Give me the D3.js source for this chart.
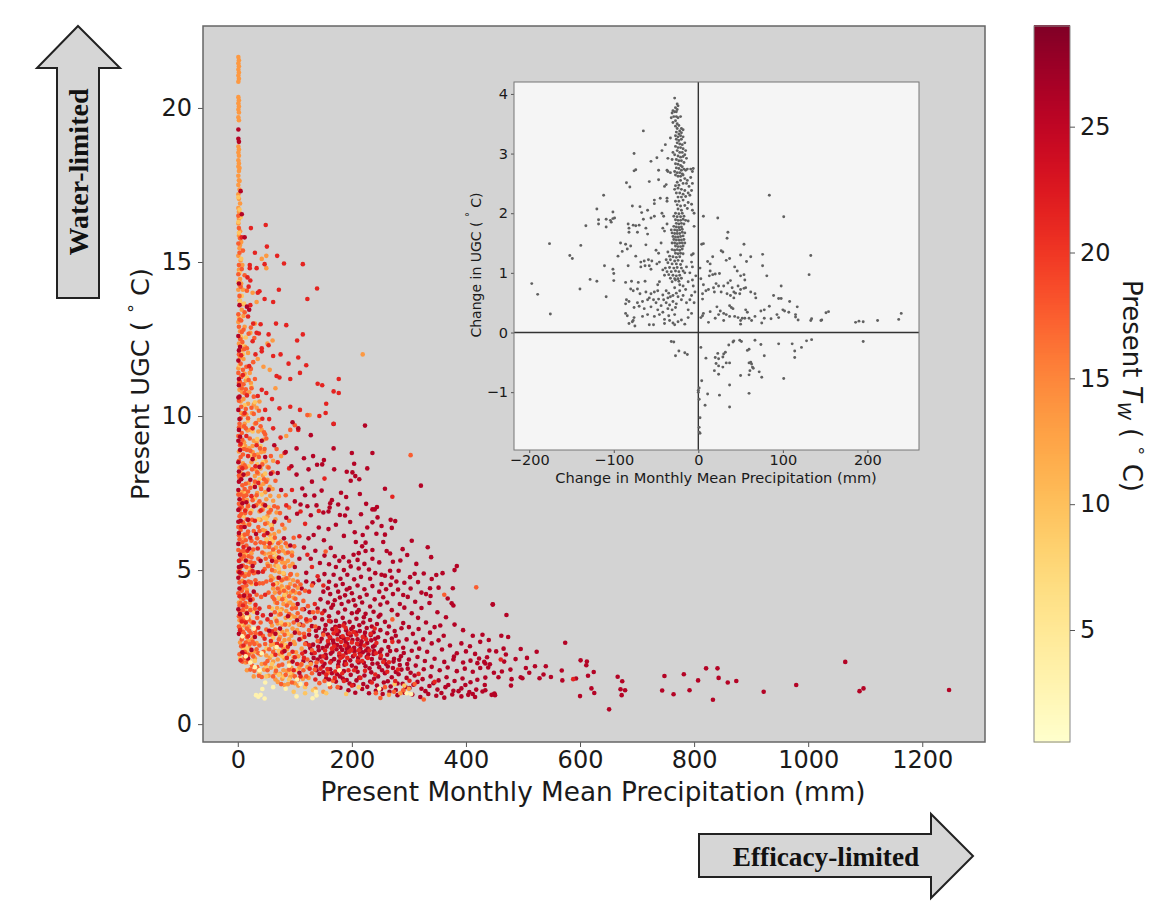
<!DOCTYPE html>
<html>
<head>
<meta charset="utf-8">
<script src="https://cdn.jsdelivr.net/npm/d3@7"></script>
<style>
    html, body { margin: 0; padding: 0; background: #fff; }
    text { font-family: "DejaVu Sans", sans-serif; fill: #1a1a1a; }
    .arrow-label { font-family: "Liberation Serif", serif; font-weight: bold; fill: #111; }
</style>
</head>
<body>
<div id="chart"></div>
<script>
'use strict';

// all values: [precipitation mm, UGC C]
const tempCrimson = 25.8;
const crimsonPoints = [
[168,9.74],[223,9.69],[128,9.38],[106,9.6],[96,9.8],[103,8.95],[168,8.95],[200,8.8],[236,8.8],[132,8.7],[151,8.57],[139,8.42],[148,8.43],[204,8.45],[124,8.27],[169,8.27],[227,8.3],[191,8.19],[201,8.17],[206,8.05],[103,8.1],[198,7.9],[213,7.95],[130,7.87],[113,7.65],[321,7.74],[258,7.64],[147,7.58],[181,7.51],[214,7.47],[134,7.42],[165,7.27],[162,7.17],[161,7.03],[192,7.0],[240,6.97],[244,7.05],[236,6.97],[159,6.9],[128,6.78],[179,6.79],[216,6.81],[245,6.71],[268,6.63],[276,6.59],[197,6.56],[142,6.38],[159,6.33],[227,6.38],[270,6.37],[219,6.14],[243,6.18],[258,6.15],[151,5.97],[133,6.14],[207,5.91],[224,5.89],[255,5.91],[305,5.95],[333,5.74],[289,5.68],[297,5.49],[163,5.72],[339,5.42],[261,5.62],[267,5.54],[224,5.62],[212,5.55],[236,5.37],[313,5.2],[384,5.13],[380,5.0],[359,4.9],[348,4.84],[310,4.88],[282,4.98],[267,4.98],[270,4.76],[241,4.9],[252,4.85],[258,4.82],[447,3.88],[377,4.41],[337,4.41],[322,4.27],[330,4.22],[338,4.16],[303,4.4],[298,4.13],[368,4.08],[375,3.92],[378,3.85],[272,4.22],[252,4.55],[268,4.52],[260,4.38],
[170,5.45],[178,5.3],[185,5.42],[195,5.28],[203,5.5],[210,5.33],[172,5.1],[186,5.0],[198,5.12],[212,5.05],[222,5.2],[230,5.02],[168,4.85],[180,4.72],[192,4.85],[204,4.7],[216,4.78],[232,4.72],[160,4.62],[172,4.5],[184,4.55],[196,4.42],[210,4.5],[222,4.38],[236,4.48],[248,4.3],[150,4.3],[162,4.22],[176,4.3],[188,4.18],[200,4.25],[214,4.12],[226,4.2],[240,4.05],[255,4.12],[145,4.05],[158,3.95],[170,4.02],[182,3.9],[194,3.98],[206,3.85],[218,3.95],[232,3.82],[250,3.88],[262,3.95],[284,3.9],[292,3.78],[270,3.7],[140,3.75],[152,3.68],[164,3.78],[176,3.62],[188,3.72],[200,3.6],[212,3.7],[224,3.58],[238,3.65],[250,3.55],[280,3.55],[305,3.6],[316,3.45],[135,3.45],[148,3.4],[160,3.5],[172,3.35],[184,3.45],[196,3.32],[208,3.42],[220,3.3],[232,3.38],[244,3.25],[258,3.32],[290,3.28],[300,3.15],[330,3.3],[345,3.15],[355,3.2],[130,3.18],[142,3.12],[154,3.22],[166,3.08],[178,3.18],[190,3.05],[202,3.15],[214,3.02],[226,3.12],[238,2.98],[250,3.05],[262,2.95],[275,3.02],[125,2.9],[138,2.85],[150,2.95],[162,2.8],[174,2.92],[186,2.78],[198,2.88],[210,2.75],[222,2.85],[234,2.72],[246,2.82],[258,2.7],[270,2.78],[282,2.68],[296,2.75],[312,2.65],[325,2.75],[340,2.62],[352,2.72],[372,2.55],[392,2.62],[120,2.62],[132,2.58],[144,2.68],[156,2.52],[168,2.62],[180,2.5],[192,2.6],[204,2.48],[216,2.58],[228,2.45],[240,2.55],[252,2.42],[264,2.5],[278,2.4],[290,2.48],[305,2.38],[318,2.45],[332,2.35],[358,2.42],[384,2.3],[400,2.36],[416,2.28],
[118,2.35],[130,2.3],[142,2.4],[154,2.25],[166,2.35],[178,2.22],[190,2.32],[202,2.2],[214,2.3],[226,2.18],[238,2.28],[250,2.15],[262,2.25],[274,2.12],[286,2.2],[300,2.1],[315,2.18],[328,2.05],[345,2.12],[362,2.02],[378,2.1],[395,2.0],[408,2.06],[420,1.98],[115,2.05],[128,2.0],[140,2.1],[152,1.96],[164,2.05],[176,1.92],[188,2.02],[200,1.9],[212,2.0],[224,1.88],[236,1.96],[248,1.85],[260,1.95],[272,1.82],[284,1.92],[298,1.8],[312,1.9],[326,1.78],[340,1.86],[354,1.75],[368,1.84],[384,1.72],[398,1.8],[412,1.7],[138,1.75],[150,1.68],[162,1.78],[174,1.62],[186,1.72],[198,1.6],[210,1.7],[222,1.58],[234,1.68],[246,1.55],[258,1.65],[270,1.52],[282,1.62],[296,1.5],[310,1.58],[324,1.46],[338,1.55],[352,1.42],[366,1.52],[380,1.4],[394,1.48],[408,1.36],[420,1.44],[160,1.45],[172,1.38],[184,1.48],[196,1.32],[208,1.42],[220,1.3],[232,1.38],[244,1.25],[256,1.35],[268,1.22],[280,1.32],[294,1.2],[308,1.28],[322,1.15],[336,1.24],[350,1.12],[364,1.2],[378,1.08],[392,1.16],[406,1.04],[418,1.12],[180,1.18],[194,1.1],[206,1.02],[218,1.14],[230,1.0],[242,1.08],[254,.98],[266,1.05],[280,.94],[292,1.02],[306,.96],[320,.88],[334,.98],[348,.92],[362,.86],[376,.96],[392,.9],[404,.95],[416,.88],[445,.95],
[447,3.89],[471,3.54],[429,2.9],[462,2.87],[474,2.83],[574,2.64],[441,2.39],[453,2.36],[466,2.45],[470,2.26],[496,2.44],[507,2.15],[524,2.35],[432,2.02],[434,1.97],[442,1.94],[425,1.82],[439,1.84],[467,2.03],[478,1.77],[505,1.82],[521,1.88],[540,1.88],[536,1.61],[568,1.74],[569,1.42],[601,2.07],[612,2.03],[611,1.91],[624,1.69],[614,1.57],[593,1.48],[620,1.16],[625,1.01],[600,.91],[666,1.54],[674,1.39],[671,1.13],[679,1.10],[673,.94],[651,.48],[748,1.56],[744,1.09],[764,.97],[782,1.62],[792,1.1],[807,1.42],[821,1.81],[841,1.81],[843,1.5],[833,.79],[859,1.35],[874,1.4],[922,1.05],[979,1.27],[1065,2.02],[1090,1.07],[1097,1.16],[1247,1.11],[434,1.51],[457,1.52],[480,1.46],[496,1.52],[499,1.49],[479,1.25],[433,1.27],[434,1.1],[429,1.06],[450,.99],[451,.94],[449,.97],
[1,19.3],[1,19.0],[2,18.9],[5,17.3],[7,16.55],[12,15.8],[2,14.3],[3,13.6],[16,13.55],[20,13.45],[1,12.6],[4,12.25],[1,11.8],[2,11.2],[2,11.0],[1,10.6],[1,10.2],[3,9.9],[2,9.55],[1,9.2],[4,8.9],[1,8.5],[2,8.2],[6,7.95],[1,7.6],[3,7.3],[1,6.95],[5,6.6],[2,6.2],[1,5.85],[4,5.5],[2,5.1],[1,4.75],[3,4.4],[10,8.1],[15,7.2],[12,6.4],[20,5.7],[26,8.6],[30,7.7],[42,9.2],[38,8.35],[48,7.1],[52,6.2],[60,5.3],[72,4.75],[85,6.7],[76,7.6],[92,5.8],[64,9.05],[70,8.15],[100,5.1],[112,4.4],[88,3.5],[105,3.9],[16,3.6],[28,4.3],[40,5.3],[58,3.55],[74,3.1],[92,2.6],[108,2.75]
];

const crimsonDense = [
[153,3.07],[158,2.91],[163,3.33],[167,2.71],[171,3.16],[174,2.57],[177,3.01],[181,2.83],[183,2.41],[187,3.27],[189,2.67],[193,2.93],[195,2.49],[199,3.09],[201,2.73],[205,2.37],[207,2.97],[211,2.59],[213,3.21],[217,2.69],[219,2.33],[223,2.97],[227,2.63],[229,2.27],[233,2.89],[237,2.51],[241,2.77],[147,2.77],[149,2.47],[155,2.15],[159,2.61],[163,2.29],[169,2.11],[173,2.43],[177,2.03],[183,2.19],[187,1.93],[191,2.45],[197,2.07],[201,2.39],[207,1.83],[211,2.15],[215,2.45],[221,1.99],[225,2.39],[231,1.81],[235,2.11],[239,2.37],[245,1.97],[249,2.33],[253,1.75],[257,2.07],[263,1.87],[267,2.37],[273,2.03],[277,1.69],[283,2.09],[287,1.77],[291,2.31],[297,1.95],[303,1.67],[137,3.03],[141,2.51],[145,2.19],[127,2.47],[133,2.15],[137,1.87],[143,1.63],[149,1.87],[155,1.49],[165,1.65],[179,1.55],[191,1.43],[203,1.27],[213,1.51],[227,1.21],[239,1.47],[251,1.13],[263,1.39],[277,1.11],[289,1.31],[301,1.17],[315,1.37],[329,1.07],[343,1.33],[357,1.01],[369,1.27],[387,1.07],[399,1.27],[412,.98],[203,4.03],[191,4.37],[179,4.11],[167,3.87],[209,3.63],[221,3.47],[235,3.17],[247,3.49],[265,3.17],[277,2.87],[287,3.11],[307,2.93],[317,3.09],[337,2.97],[361,2.87],[379,2.19],[407,2.53],[423,2.13],[437,2.17],[449,1.67],[463,1.71],[487,2.11],[511,1.67],[529,1.49],[549,1.53],[128,5.37],[136,5.63],[144,5.23],[152,5.47],[160,5.19],[142,4.67],[152,4.87],[158,4.41],[218,5.77],[236,5.65],[248,5.25],[272,5.27],[285,5.31],[278,4.63],[292,4.59],[302,4.77],[316,4.61],[326,4.89],[340,4.71],[352,4.43],[281,4.37],[290,4.19],[311,3.97],[322,3.77],[336,3.93],[350,3.63],[365,3.47],[380,3.23],[395,3.05],[412,2.87],[425,2.67],[440,2.73],[186,6.11],[172,6.47],[188,6.77],[205,6.23],[176,7.13],[190,7.37],[225,7.15],[252,6.43],[236,6.55],[150,6.87],[138,7.1],[122,7.07],[118,7.43],[110,7.13],[104,6.83],[100,7.23],[94,8.37],[84,8.83],[116,8.63],[124,6.03],[116,5.73],[108,5.37],[120,4.91],[132,4.57],[120,4.63],[110,3.23],[116,3.73],[126,3.63],[100,2.97],[104,3.37],
[18,2.13],[24,2.41],[30,2.83],[34,3.61],[22,4.03],[36,4.93],[14,5.31],[26,5.13],[32,6.17],[18,6.63],[8,7.17],[28,7.07],[22,7.93],[6,5.13],[11,4.17],[4,3.57],[8,2.33],[2,2.93],[1,3.73],[3,4.93],[1,6.57],[2,7.87],[4,9.33],[3,10.63],[2,12.13],[55,3.03],[66,2.93],[82,2.37],[96,2.03],[108,1.67],[72,5.41],[81,6.03],[64,6.57],[54,7.61],[58,8.13],[48,8.67]
];

const tempRed = 21.5;
const redPoints = [
[23,16.1],[49,16.2],[7,15.8],[51,15.5],[30,15.3],[69,15.2],[81,14.95],[114,14.93],[21,14.9],[21,14.8],[33,14.8],[47,14.93],[17,14.5],[22,14.4],[19,14.2],[139,14.14],[72,14.1],[38,14.05],[35,14.0],[122,13.8],[47,13.8],[62,13.7],[22,13.6],[27,13.0],[40,12.98],[67,13.0],[85,12.95],[33,12.7],[37,12.68],[54,12.65],[114,12.65],[104,12.45],[54,12.3],[42,12.2],[42,12.1],[62,11.95],[75,12.0],[31,12.0],[106,11.9],[89,11.7],[120,11.65],[20,11.62],[109,11.4],[68,11.3],[73,11.25],[92,11.2],[140,11.05],[148,11.0],[168,10.8],[177,10.75],[155,10.4],[92,10.3],[109,10.2],[73,10.25],[143,10],[154,10.1],[168,9.75],[106,9.55],[35,10.65],[42,10.85],[50,10.75],[60,10.55],[48,10.2],[55,9.9],[62,9.6],[75,9.3],[82,8.8],[70,8.5],[90,8.3],[95,7.6],[85,7.1],[110,6.9],[118,6.5],[108,6.1],[122,5.5],[130,5.1],[140,4.8],[150,4.5],[125,4.3],[135,3.9],[148,3.6],[120,3.4],[160,3.35],[172,3.1],[185,3.2],[196,2.95],[175,2.75],[188,2.55],[200,2.65],[212,2.4],[165,2.45],[178,2.3],[192,2.15],[205,2.25],[218,2.05],[150,2.2],[162,2.0],[176,1.85],[190,1.95],[204,1.75],[145,1.8],[155,1.6],[170,1.5],[186,1.4],[200,1.25],[215,1.5],[235,1.35],[242,2.3],[255,2.02],[262,1.7],[276,1.4],[225,2.75],[240,3.1],[228,2.15],[208,2.9],[184,2.85],[168,2.95],[158,2.7],[222,2.55],[195,2.35],[180,2.15],[210,2.05],[194,1.75],[5,9.1],[8,8.3],[3,7.0],[6,6.4],[10,5.75],[2,5.3],[7,4.9],[12,4.6],[3,4.15],[9,3.85],[14,3.3],[4,3.05],[18,2.85],[10,2.55],[24,7.4],[30,6.6],[22,6.05],[35,5.7],[44,4.95],[32,4.55],[48,4.2],[38,3.75],[28,3.3],[52,3.4],[40,2.95],[58,2.7],[66,2.25],[76,2.55],[86,2.15],[96,2.35],[104,1.95],[116,2.15],[126,1.8],[110,1.55],[136,1.45],[98,1.75],[12,10.1],[15,9.35],[18,8.7],[26,9.6],[33,9.05],[588,1.46],[461,2.1],[271,7.38],[177,11.2],[152,7.97],[142,6.92],
[161,2.83],[169,2.53],[173,3.03],[181,2.67],[185,2.23],[193,2.77],[199,2.41],[203,2.99],[209,2.61],[215,2.23],[219,2.83],[231,2.39],[243,2.63],[251,2.23],[265,2.01],[271,2.67],[233,2.93],[189,3.13],[153,2.39],[147,2.03],[135,2.31],[125,2.57],[117,2.83],[113,2.29],[157,1.79],[171,1.71],[183,1.65],[223,1.73],[241,1.61],[281,1.77],[301,1.41],[317,1.63],[345,1.37],[17,5.63],[13,6.93],[26,4.97],[21,4.17],[7,3.33],[13,2.27],[5,2.07],[31,3.87],[36,3.13],[44,3.53],[47,2.77],[60,3.01],[69,2.61],[78,2.33],[88,2.51],[100,2.17],[62,4.53],[56,5.87],[46,6.13],[40,6.93],[36,7.83],[31,8.37],[43,9.91],[16,10.67],[9,11.33],[6,11.97],[18,13.23],[26,12.43]
];

const tempOrangeRed = 17.5;
const orangeRedPoints = [
[1,16.5],[2,16.1],[1,15.6],[3,15.3],[2,14.9],[1,14.6],[5,14.2],[3,13.9],[1,13.3],[6,13.1],[2,12.9],[4,12.5],[8,12.4],[2,12.0],[5,11.7],[9,11.5],[1,11.4],[4,11.1],[7,10.9],[12,10.75],[2,10.5],[6,10.3],[10,10.05],[3,9.75],[7,9.45],[14,9.6],[1,9.35],[4,9.05],[9,8.75],[16,8.9],[2,8.55],[6,8.35],[12,8.4],[3,8.0],[8,7.75],[14,7.8],[1,7.45],[5,7.45],[11,7.4],[18,7.55],[2,7.15],[7,7.05],[13,6.85],[3,6.75],[9,6.55],[16,6.65],[22,6.85],[1,6.4],[5,6.3],[12,6.15],[18,6.25],[3,6.0],[8,5.9],[15,5.8],[24,5.95],[1,5.65],[6,5.6],[11,5.45],[19,5.45],[3,5.3],[9,5.15],[15,5.1],[23,5.25],[1,4.95],[5,4.85],[12,4.8],[19,4.85],[28,4.9],[3,4.6],[8,4.45],[15,4.5],[23,4.6],[1,4.25],[6,4.15],[12,4.2],[18,4.1],[26,4.05],[33,4.2],[3,3.85],[9,3.7],[15,3.8],[22,3.7],[30,3.75],[2,3.5],[6,3.4],[12,3.35],[19,3.4],[26,3.3],[34,3.45],[4,3.1],[9,3.0],[16,3.1],[23,2.95],[31,2.95],[7,2.75],[14,2.65],[21,2.6],[29,2.6],[38,2.55],[12,2.35],[19,2.25],[27,2.2],[36,2.3],[45,2.35],[25,1.9],[34,1.85],[52,2.05],[32,7.1],[36,6.4],[42,6.95],[48,6.5],[40,5.9],[55,5.75],[65,6.05],[72,5.6],[60,5.0],[70,4.4],[82,5.1],[92,4.85],[100,4.5],[90,4.15],[108,4.25],[115,4.0],[105,3.6],[98,3.3],[115,3.2],[125,3.05],[108,2.95],[118,2.6],[130,2.4],[122,2.1],[138,2.0],[115,1.75],[130,1.65],[105,1.45],[120,1.3],[82,2.9],[68,3.35],[56,2.9],[48,2.6],[72,2.75],[62,2.35],[52,1.75],[72,1.9],[84,1.6],[95,1.35],[76,1.3],[62,1.55],[122,10.03],[92,9.55],[100,9.7],[58,8.7],[48,9.4],[39,8.95],[66,7.9],[74,6.85],[58,6.95],[90,6.6],[98,6.05],[46,7.95],[30,11.2],[24,10.9],[15,11.6],[10,12.8],[16,12.2],[27,11.75],[86,3.85],[78,4.05],[64,4.05],[55,3.8],[40,3.3],[30,3.05],[95,3.75],[130,4.5],[140,3.65],[150,2.9],[140,2.7],[152,1.4],[175,1.2],[162,1.2],[242,1.0],[258,1.2],[274,1.05],[303,8.73],[418,4.44],[362,4.2],[271,3.4],[154,5.6],[310,1.3],[290,1.1],[326,.8],[250,.85]
];

const orangeRedDense = [
[2,3.17],[3,3.67],[5,3.93],[7,4.33],[10,4.07],[13,3.93],[16,4.27],[19,4.63],[21,4.93],[24,5.41],[27,5.67],[29,5.23],[31,4.67],[33,4.93],[36,5.37],[38,4.57],[41,4.13],[44,4.57],[47,5.03],[50,4.63],[54,4.27],[58,4.67],[61,4.13],[65,3.63],[69,3.93],[73,4.27],[77,4.67],[81,4.33],[85,4.73],[89,4.43],[93,4.87],[97,4.33],[101,4.07],[105,4.63],[110,4.53],[113,3.73],[118,4.33],[123,3.83],[127,3.37],[132,3.63],[136,3.17],[116,2.93],[121,3.33],[110,3.47],[102,3.77],[90,3.57],[83,3.23],[75,3.57],[66,3.07],[58,3.31],[50,3.07],[44,2.87],[38,2.93],[33,2.43],[26,2.67],[20,3.03],[16,2.83],[11,2.93],[6,2.53],[3,2.27],[8,2.03],[12,2.15],[17,2.03],[22,1.77],[29,1.73],[37,1.57],[42,1.53],[48,1.97],[55,2.43],[67,1.73],[78,1.93],[90,1.77],[100,1.55],[111,1.93],[120,1.55],[135,1.77],[143,1.33],[158,1.67],[167,1.41],[3,5.07],[6,5.37],[10,5.63],[14,5.97],[17,6.17],[20,6.47],[25,6.63],[28,6.27],[31,5.87],[34,6.03],[38,6.27],[43,5.57],[46,5.87],[49,5.37],[53,5.13],[57,5.43],[62,5.67],[67,5.27],[71,5.87],[77,5.37],[84,5.87],[88,5.57],[95,5.47],[99,5.77],[2,6.13],[6,6.83],[9,7.27],[12,7.63],[15,7.43],[18,7.07],[22,7.67],[26,7.27],[30,7.87],[33,7.43],[38,7.23],[41,7.63],[45,7.13],[50,7.87],[54,6.87],[60,6.33],[64,7.07],[70,7.03],[78,6.47],[84,7.43],[90,7.03],[2,8.07],[5,8.67],[8,8.07],[11,8.93],[14,8.33],[18,8.13],[22,8.87],[25,8.27],[29,8.73],[34,8.17],[37,8.67],[43,8.43],[47,8.93],[54,8.33],[61,8.17],[68,8.93],[2,9.63],[5,9.93],[8,9.23],[11,9.67],[14,10.23],[18,9.93],[21,9.27],[24,10.27],[28,10.07],[32,9.77],[37,10.17],[40,9.67],[46,9.47],[50,9.27],[2,11.07],[6,11.27],[10,11.03],[14,10.87],[19,11.17],[23,11.53],[28,10.63],[3,13.13],[7,12.73],[11,12.17],[19,12.67],[23,12.87],[29,12.53],[7,14.77],[12,14.57],[16,14.07],[12,13.37],[4,15.77],[9,15.37]
];

const tempOrange = 13.5;
const orangePoints = [
[1,21.65],[2,21.55],[1,21.45],[2,21.35],[1,21.25],[2,21.15],[1,21.05],[2,20.95],[1,20.85],[1,20.35],[2,20.25],[1,20.15],[2,20.05],[1,19.95],[2,19.85],[1,19.7],[2,19.6],[1,18.75],[2,18.65],[1,18.55],[2,18.45],[1,18.3],[2,18.2],[1,18.1],[2,17.95],[1,17.8],[2,17.65],[1,17.5],[3,17.35],[1,17.2],[2,17.05],[4,16.9],[1,16.75],[3,16.6],[2,16.4],[1,16.25],[4,16.0],[2,15.85],[6,15.65],[3,15.45],[1,15.2],[5,15.05],[2,14.75],[8,14.9],[4,14.45],[1,14.1],[6,14.3],[9,14.1],[3,13.75],[7,13.45],[1,13.05],[10,13.25],[4,12.75],[12,12.9],[2,12.35],[7,12.15],[13,12.25],[18,12.05],[4,11.9],[10,11.85],[1,11.55],[21,11.4],[7,11.3],[14,11.15],[3,10.85],[10,10.55],[18,10.4],[25,10.1],[6,10.1],[15,10.05],[22,9.55],[12,9.75],[30,9.75],[36,9.5],[28,9.2],[42,9.55],[20,8.95],[35,8.75],[46,8.85],[24,8.5],[40,8.3],[52,8.35],[30,8.05],[45,7.8],[56,7.7],[34,7.5],[50,7.3],[62,7.25],[38,6.9],[52,6.75],[66,6.65],[44,6.3],[56,6.15],[72,6.25],[48,5.75],[60,5.55],[76,5.75],[84,5.55],[52,5.2],[66,5.15],[78,5.25],[88,5.3],[96,5.2],[58,4.8],[70,4.75],[80,4.7],[92,4.55],[104,4.85],[62,4.4],[76,4.35],[86,4.45],[98,4.1],[66,3.95],[80,3.9],[92,3.95],[72,3.55],[84,3.45],[96,3.1],[60,3.2],[78,3.0],[90,2.75],[104,3.05],[64,2.6],[80,2.45],[100,2.6],[112,2.45],[70,2.1],[90,2.0],[106,2.2],[56,2.15],[42,1.95],[80,1.75],[96,1.6],[112,1.95],[128,1.95],[66,1.45],[88,1.3],[106,1.25],[124,1.5],[6,9.65],[2,8.85],[11,9.15],[5,8.15],[15,8.1],[7,7.25],[18,7.1],[4,6.55],[10,6.05],[20,6.5],[13,5.55],[4,5.05],[8,4.65],[24,5.55],[16,4.35],[2,3.95],[7,3.55],[21,3.95],[11,3.2],[18,2.7],[25,2.75],[32,2.35],[16,2.3],[14,2.0],[40,2.25],[28,1.55],[16,1.75],[6,2.3],[4,2.65],[30,13.0],[22,12.7],[35,11.85],[50,15.2],[50,14.8],[42,15.1],[26,14.0],[33,13.7],[52,12.35],[61,12.45],[219,12.0],[126,10.03],[45,11.6],[56,11.5],[66,10.9],[85,9.35],[76,8.7],[62,8.55],[72,7.4],[82,6.35],[96,3.5],[122,1.85],[136,1.15],[150,1.05],[300,1.15],[285,1.0],[265,.95]
];

const orangeDense = [
[33,9.13],[37,9.87],[41,8.83],[45,9.23],[49,8.53],[26,9.03],[31,8.27],[36,8.13],[40,7.73],[44,8.07],[48,7.53],[52,7.93],[57,7.41],[61,7.63],[36,7.17],[40,6.63],[44,6.97],[48,6.27],[52,6.53],[56,6.87],[60,6.47],[64,6.17],[68,6.87],[47,5.53],[51,5.93],[55,5.53],[59,5.87],[63,5.37],[67,5.73],[71,5.33],[75,5.93],[79,5.63],[83,5.23],[87,5.77],[91,5.13],[95,5.57],[57,5.13],[61,4.73],[65,4.97],[69,4.57],[73,4.93],[77,4.47],[81,4.87],[85,4.27],[89,4.73],[93,4.27],[97,4.67],[101,4.27],[105,4.43],[65,4.27],[69,3.77],[73,4.07],[77,3.73],[81,4.13],[85,3.67],[89,3.93],[93,3.53],[97,3.87],[101,3.47],[107,3.23],[111,2.77],[70,3.27],[74,2.83],[78,3.23],[82,2.73],[86,3.03],[90,3.23],[94,2.87],[98,2.67],[102,2.33],[58,2.57],[62,2.93],[66,2.47],[70,2.57],[74,2.27],[78,2.63],[82,2.13],[86,2.43],[90,2.27],[94,1.83],[98,2.17],[46,1.77],[50,2.23],[54,1.57],[58,1.83],[62,2.03],[66,1.67],[70,1.37],[74,1.63],[78,1.47],[82,1.27],[86,1.73],[92,1.53],[100,1.33],[108,1.83],[114,1.47],[30,2.13],[25,2.33],[20,2.47],[14,2.37],[8,2.83],[3,3.37],[10,3.47],[15,3.63],[19,3.17],[23,3.33],[28,2.83],[33,2.63],[6,4.07],[11,4.43],[14,4.87],[18,5.27],[21,5.07],[8,5.57],[12,6.47],[4,6.97],[8,7.53],[15,6.97],[19,7.83],[3,8.33],[9,8.47],[13,9.03],[17,9.53],[5,10.47],[8,10.77],[12,11.37],[6,12.53],[9,13.63],[3,14.25],[4,15.55],[2,16.63],[3,17.63],[3,18.05],[23,11.07],[28,10.37],[20,10.77],[33,10.27],[38,10.47],[26,8.83],[16,7.27]
];

const tempAmber = 9.5;
const amberPoints = [
[1,17.1],[3,16.7],[1,16.3],[5,16.45],[2,15.95],[6,15.1],[3,14.65],[1,14.35],[7,13.9],[11,13.65],[2,13.2],[5,12.6],[14,12.55],[9,12.0],[3,11.65],[16,11.25],[24,10.95],[12,10.35],[30,10.45],[18,9.85],[26,9.5],[34,9.25],[8,9.0],[22,8.7],[30,8.6],[44,8.5],[38,7.95],[28,7.75],[14,7.5],[42,7.45],[54,7.05],[46,6.7],[36,6.65],[58,6.45],[62,5.95],[50,6.0],[68,5.45],[72,5.05],[56,5.45],[80,4.9],[66,4.55],[72,4.1],[82,4.2],[60,3.75],[86,3.25],[76,3.3],[70,2.95],[92,3.45],[62,2.8],[50,2.45],[78,2.2],[96,2.05],[60,1.95],[72,1.6],[90,1.45],[102,1.75],[118,1.2],[50,1.55],[38,1.65],[30,2.05],[22,2.05],[14,2.5],[6,3.25],[4,4.4],[9,5.35],[3,5.85],[10,6.75],[2,7.55],[17,5.05],[24,4.55],[20,3.5],[12,3.75],[28,3.65],[132,1.1],[118,1.0],[98,1.05],[155,1.0],[190,.98],[212,1.2],[275,1.3],[292,1.25],
[40,9.03],[34,8.43],[48,8.13],[42,7.13],[50,6.67],[58,6.03],[64,5.57],[70,5.13],[76,4.63],[80,4.37],[84,4.03],[74,3.67],[66,3.43],[88,2.93],[84,2.57],[72,2.37],[60,2.23],[50,1.87],[66,1.83],[80,1.55],[92,1.67],[6,3.07],[9,2.45],[4,2.13],[17,2.43],[21,3.77],[16,5.47],[7,6.13],[11,8.33],[7,10.93],[19,8.37],[24,6.93],[30,7.33],[4,13.73],[8,12.33]
];

const tempPale = 3;
const palePoints = [
[36,.89],[32,.94],[40,.95],[47,.83],[43,1.14],[103,.9],[137,1.05],[138,.93],[131,.84],[30,1.85],[38,1.75],[22,2.0],[14,2.2],[48,1.35],[62,1.2],[84,1.15],[110,1.3],[42,2.3],[68,2.5],[28,3.1],[16,3.45],[8,2.85],[90,1.9],[104,1.45],[178,1.75],[160,1.3],[248,1.15],[296,1.0],[304,.98]
];

// wet crimson sits under the rest, the dry end of it is painted over the orange band
const allCrimson = crimsonPoints.concat(crimsonDense);

// temperature groups, painted in this order
const mainGroups = [
    [tempCrimson, allCrimson.filter(d => d[0] >= 110)],
    [tempOrange, orangePoints],
    [tempOrange, orangeDense],
    [tempAmber, amberPoints],
    [tempOrangeRed, orangeRedPoints],
    [tempOrangeRed, orangeRedDense],
    [tempRed, redPoints],
    [tempCrimson, allCrimson.filter(d => d[0] < 110)],
    [tempPale, palePoints]
];

// inset: [change in precipitation mm, change in UGC C]
const insetSparse = [
[-197,.82],[-190,.64],[-175,.31],[-176,1.49],[-152,1.29],[-149,1.24],[-139,1.46],[-140,.73],[-128,.89],[-120,.86],[-133,1.79],[-120,2.07],[-118,1.89],[-118,1.82],[-112,2.30],[-111,1.12],[-109,.60],[-109,1.9],[-109,1.77],[-104,1.88],[-103,1.85],[-101,2.02],[-101,1.91],[-99,1.92],[-101,1.06],[-100,.99],[-100,.87],[-95,1.28],[-92,1.5],[-90,1.36],[-86,1.48],[-85,2.51],[-81,2.44],[-76,3.0],[-74,2.73],[-76,2.71],[-65,3.38],[-78,2.12],[-69,2.11],[-67,2.01],[-60,2.05],[-58,2.53],[-56,2.87],[-49,2.93],[-43,3.05],[-39,3.15],[-33,3.26],[-47,2.56],[-47,2.72],[-52,2.22],[-52,2.16],[-45,2.25],[-37,2.25],[-37,2.2],[-40,2.45],[-38,2.48],[-36,2.7],[-33,2.68],[-37,2.72],[-36,2.92],[-31,2.9],[-30,3.02],
[-83,1.82],[-82,1.75],[-82,1.68],[-80,1.45],[-84,1.4],[-77,1.8],[-74,1.79],[-72,1.68],[-70,1.8],[-65,1.9],[-62,1.75],[-60,1.65],[-56,1.92],[-52,1.95],[-62,1.47],[-74,1.28],[-83,1.12],[-68,1.18],[-64,1.2],[-59,1.22],[-55,1.2],[-68,1.1],[-63,1.12],[-58,1.12],[-56,1.06],[-50,1.38],[-47,1.33],[-44,1.5],[-49,1.15],[-46,1.18],[-42,1.05],[-40,1.7],[-42,1.75],[-41,1.95],[-43,2.0],[-37,1.82],
[-86,.84],[-79,.86],[-71,.84],[-63,.86],[-80,.73],[-77,.7],[-72,.73],[-69,.65],[-62,.68],[-56,.65],[-52,.68],[-48,.7],[-48,.8],[-46,.85],[-38,.7],[-35,.66],[-42,.63],[-58,.58],[-53,.55],[-47,.56],[-41,.55],[-85,.55],[-82,.52],[-86,.48],[-72,.5],[-66,.52],[-60,.55],[-50,.5],[-44,.45],[-38,.5],[-34,.46],[-30,.52],[-26,.48],[-76,.42],[-70,.44],[-64,.4],[-56,.43],[-48,.38],[-42,.34],[-36,.4],[-31,.38],[-27,.42],[-86,.32],[-84,.28],[-76,.25],[-66,.27],[-60,.3],[-52,.27],[-46,.3],[-40,.22],[-35,.28],[-28,.3],[-82,.15],[-78,.18],[-77,.2],[-75,.11],[-58,.13],[-53,.13],[-40,.15],[-34,.2],[-30,.16],[-28,.13],[-24,.18],[-20,.21],[-16,.14],[-12,.25],[-14,.5],[-10,.55],[-8,.62],[-5,.5],[-4,.68],[-6,.78],[-7,.88],[-3,.95],[-12,.85],[-15,.72],[-18,.62],[-20,.55],[-22,.7],[-24,.6],[-26,.66],[-18,.78],[-22,.8],[-30,.62],[-33,.6],[-28,.75],[-36,.58],[-12,.38],[-8,.32],
[-6,1.32],[-8,1.3],[-8,1.18],[-10,1.0],[-7,1.1],[-14,1.1],[-16,1.0],[-5,2.0],[-5,1.78],[-8,2.15],[-7,2.05],[-9,2.6],[-8,2.38],[-7,2.5],[-10,2.3],[-11,2.45],[-13,2.55],[-7,2.7],[-6,2.75],[-9,2.74],[-13,2.74],[-15,2.72],
[2,1.08],[3,.9],[4,1.48],[6,1.95],[6,.8],[5,.65],[5,.56],[6,1.49],[12,.72],[9,.7],[13,.95],[11,1.19],[14,1.15],[14,1.03],[17,1.27],[17,.97],[20,.98],[25,.99],[18,.75],[19,.68],[21,.82],[24,.78],[27,1.37],[29,1.35],[23,1.92],[35,1.68],[34,1.58],[33,1.21],[37,1.24],[43,1.1],[46,1.03],[50,.95],[54,1.48],[50,1.3],[57,1.19],[62,1.27],[54,.97],[55,.88],[76,1.31],[76,1.12],[81,.95],[84,2.3],[101,1.94],[131,.97],[133,1.29],[98,.78],[35,.83],[38,.87],[30,.78],[27,.68],[34,.65],[40,.75],[42,.68],[38,.62],[44,.66],[42,.58],[47,.78],[50,.72],[54,.74],[56,.75],[49,.65],[62,.68],[67,.65],[68,.58],[39,.42],[37,.45],[41,.4],
[3,.25],[5,.28],[6,.32],[12,.17],[14,.35],[20,.24],[22,.43],[24,.3],[26,.36],[30,.32],[33,.3],[30,.2],[37,.27],[43,.27],[47,.25],[50,.2],[50,.14],[52,.24],[55,.24],[56,.38],[58,.34],[60,.24],[63,.2],[67,.27],[75,.16],[74,.36],[78,.24],[78,.38],[84,.44],[86,.23],[89,.62],[93,.3],[95,.57],[98,.57],[100,.38],[102,.36],[95,.25],[107,.34],[108,.52],[115,.3],[115,.26],[117,.43],[118,.21],[133,.2],[134,.23],[145,.2],[146,.21],[151,.33],[154,.35],[186,.17],[190,.19],[195,.18],[212,.2],[237,.22],[240,.32],
[-32,-.15],[-29,-.16],[-27,-.39],[-23,-.31],[-16,-.34],[-13,-.37],[3,-.25],[9,-.43],[4,-.81],[11,-1.03],[8,-1.22],[1,-.93],[0,-.97],[0,-1.0],[1,-1.12],[2,-1.43],[1,-1.59],[2,-1.69],[1,-1.67],[20,-.42],[23,-.35],[24,-.44],[29,-.41],[21,-.52],[24,-.56],[29,-.58],[30,-.36],[32,-.33],[33,-.51],[37,-.51],[36,-.21],[41,-.16],[42,-.14],[49,-.13],[51,-.15],[19,-.64],[24,-.7],[37,-.88],[25,-1.05],[37,-1.25],[50,-.72],[58,-.3],[60,-.28],[60,-.71],[61,-.64],[60,-.51],[63,-.53],[62,-.5],[64,-.58],[65,-.6],[60,-1.02],[67,-.13],[72,-.66],[75,-.75],[74,-.2],[78,-.39],[95,-.19],[101,-.77],[111,-.19],[114,-.31],[114,-.42],[122,-.25],[128,-.14],[134,-.12],[195,-.15]
];

const insetColumn = [
[-28,3.93],[-25,3.83],[-24,3.8],[-27,3.77],[-25,3.74],[-26,3.7],[-30,3.72],[-31,3.68],[-28,3.7],[-26,3.62],[-29,3.62],[-32,3.6],[-24,3.6],[-21,3.62],[-27,3.55],[-30,3.52],[-25,3.5],[-27,3.46],[-23,3.47],[-20,3.42],[-25,3.42],[-22,3.38],[-18,3.4],[-26,3.36],[-23,3.33],[-20,3.35],[-27,3.3],[-24,3.28],[-21,3.3],[-18,3.28],[-26,3.24],[-23,3.22],[-20,3.24],[-16,3.18],[-25,3.18],[-22,3.16],[-19,3.15],[-27,3.12],[-24,3.1],[-21,3.1],[-18,3.08],[-15,3.05],[-25,3.05],[-22,3.02],[-19,3.02],[-16,2.98],[-28,2.98],[-24,2.96],[-21,2.94],[-18,2.95],[-14,2.92],[-26,2.9],[-23,2.88],[-20,2.88],[-17,2.85],[-27,2.83],[-24,2.82],[-21,2.8],[-19,2.78],[-26,2.76],[-23,2.75],[-20,2.72],[-17,2.74],[-28,2.7],[-25,2.68],[-22,2.68],[-19,2.66],[-27,2.64],[-24,2.62],[-21,2.62],[-18,2.64],
[-25,2.52],[-21,2.55],[-16,2.58],[-27,2.46],[-23,2.47],[-18,2.5],[-14,2.5],[-28,2.4],[-24,2.42],[-20,2.4],[-16,2.38],[-26,2.34],[-22,2.34],[-18,2.32],[-12,2.34],[-24,2.27],[-20,2.27],[-15,2.28],[-27,2.2],[-23,2.2],[-18,2.22],[-12,2.18],[-25,2.14],[-21,2.12],[-16,2.13],[-24,2.07],[-20,2.05],[-13,2.08],[-27,2.0],[-23,1.99],[-19,2.0],[-29,1.95],[-25,1.94],[-21,1.94],[-17,1.95],[-27,1.89],[-24,1.88],[-21,1.88],[-18,1.9],[-15,1.88],[-12,1.87],[-26,1.83],[-23,1.82],[-20,1.83],[-17,1.82],[-29,1.78],[-26,1.77],[-23,1.76],[-20,1.77],[-32,1.72],[-28,1.72],[-25,1.71],[-22,1.72],[-19,1.73],[-31,1.67],[-28,1.66],[-25,1.66],[-22,1.66],[-19,1.68],[-16,1.67],[-30,1.61],[-27,1.6],[-24,1.6],[-21,1.61],[-18,1.62],[-29,1.56],[-26,1.55],[-23,1.55],[-20,1.55],[-17,1.56],[-31,1.5],[-28,1.5],[-25,1.49],[-22,1.5],[-19,1.5],[-16,1.5],[-27,1.45],[-24,1.44],[-21,1.44],[-18,1.45],[-31,1.39],[-28,1.38],[-25,1.39],[-22,1.38],[-19,1.4],[-36,1.35],[-27,1.33],[-24,1.32],[-21,1.33],[-18,1.32],[-34,1.28],[-30,1.27],[-26,1.26],[-22,1.27],[-38,1.22],[-33,1.22],[-28,1.2],[-24,1.21],[-19,1.2],[-36,1.17],[-31,1.15],[-26,1.15],[-21,1.14],[-39,1.08],[-34,1.09],[-29,1.08],[-25,1.09],[-20,1.08],[-37,1.02],[-32,1.02],[-27,1.03],[-23,1.02],[-18,1.03],[-40,.96],[-35,.97],[-30,.96],[-26,.95],[-22,.96],[-33,.91],[-28,.9],[-24,.9],[-20,.91],[-31,.85],[-27,.88],[-23,.86]
];

const mainXTicks = [0, 200, 400, 600, 800, 1000, 1200];
const mainYTicks = [0, 5, 10, 15, 20];
const insetXTicks = [-200, -100, 0, 100, 200];
const insetYTicks = [-1, 0, 1, 2, 3, 4];
const barTicks = [5, 10, 15, 20, 25];

const svg = d3.select('#chart').append('svg')
    .attr('width', 1151)
    .attr('height', 913)
    .style('display', 'block');

const color = d3.scaleSequential(d3.interpolateYlOrRd).domain([0.55, 29]);

// main panel
const x = d3.scaleLinear().domain([-61, 1310]).range([203, 985]);
const y = d3.scaleLinear().domain([-0.58, 22.66]).range([742, 26]);

svg.append('rect')
    .attr('x', 203).attr('y', 26).attr('width', 782).attr('height', 716)
    .attr('fill', '#d3d3d3');

mainGroups.forEach(group => {
    svg.append('g').selectAll('circle')
        .data(group[1])
        .join('circle')
        .attr('cx', d => x(d[0]))
        .attr('cy', d => y(d[1]))
        .attr('r', 2.3)
        .attr('fill', color(group[0]));
});

function styleAxis(g, size) {
    g.selectAll('text').style('font-size', size + 'px').attr('fill', '#1a1a1a');
    g.selectAll('line').attr('stroke', '#555');
    g.select('.domain').remove();
}

svg.append('g')
    .attr('transform', 'translate(0,742)')
    .call(d3.axisBottom(x).tickValues(mainXTicks).tickFormat(d3.format('d')).tickSize(5).tickPadding(4))
    .call(styleAxis, 24);
svg.append('g')
    .attr('transform', 'translate(203,0)')
    .call(d3.axisLeft(y).tickValues(mainYTicks).tickSize(5).tickPadding(6))
    .call(styleAxis, 24);

svg.append('rect')
    .attr('x', 203).attr('y', 26).attr('width', 782).attr('height', 716)
    .attr('fill', 'none').attr('stroke', '#666').attr('stroke-width', 1.5);

svg.append('text')
    .attr('x', 593).attr('y', 801)
    .attr('text-anchor', 'middle')
    .style('font-size', '26.3px')
    .text('Present Monthly Mean Precipitation (mm)');

function degreeLabel(sel, before) {
    sel.append('tspan').text(before + '( ');
    sel.append('tspan').attr('dy', -8).style('font-size', '0.7em').text('°');
    sel.append('tspan').attr('dy', 8).text(' C)');
}

svg.append('text')
    .attr('transform', 'translate(149,384) rotate(-90)')
    .attr('text-anchor', 'middle')
    .style('font-size', '25.6px')
    .call(degreeLabel, 'Present UGC ');

// inset panel
const ix = d3.scaleLinear().domain([-218, 261]).range([514, 919]);
const iy = d3.scaleLinear().domain([-1.97, 4.2]).range([450, 82]);

svg.append('rect')
    .attr('x', 514).attr('y', 82).attr('width', 405).attr('height', 368)
    .attr('fill', '#f5f5f5');

svg.append('line')
    .attr('x1', 514).attr('x2', 919)
    .attr('y1', iy(0)).attr('y2', iy(0))
    .attr('stroke', '#333').attr('stroke-width', 1.4);
svg.append('line')
    .attr('x1', ix(0)).attr('x2', ix(0))
    .attr('y1', 82).attr('y2', 450)
    .attr('stroke', '#333').attr('stroke-width', 1.4);

svg.append('g').selectAll('circle')
    .data(insetSparse.concat(insetColumn))
    .join('circle')
    .attr('cx', d => ix(d[0]))
    .attr('cy', d => iy(d[1]))
    .attr('r', 1.45)
    .attr('fill', '#606060');

svg.append('g')
    .attr('transform', 'translate(0,450)')
    .call(d3.axisBottom(ix).tickValues(insetXTicks).tickSize(3).tickPadding(2))
    .call(styleAxis, 14.5);
svg.append('g')
    .attr('transform', 'translate(514,0)')
    .call(d3.axisLeft(iy).tickValues(insetYTicks).tickFormat(d3.format('d')).tickSize(3).tickPadding(3))
    .call(styleAxis, 14.5);

svg.append('rect')
    .attr('x', 514).attr('y', 82).attr('width', 405).attr('height', 368)
    .attr('fill', 'none').attr('stroke', '#777').attr('stroke-width', 1);

svg.append('text')
    .attr('x', 716).attr('y', 483)
    .attr('text-anchor', 'middle')
    .style('font-size', '14.6px')
    .text('Change in Monthly Mean Precipitation (mm)');

svg.append('text')
    .attr('transform', 'translate(481,265) rotate(-90)')
    .attr('text-anchor', 'middle')
    .style('font-size', '14px')
    .call(degreeLabel, 'Change in UGC ');

// colorbar, one slice per 0.1 degree; slices overlap so no seam shows
const barY = d3.scaleLinear().domain([0.55, 29]).range([742, 26]);

svg.append('g').selectAll('rect')
    .data(d3.range(0.55, 29, 0.1))
    .join('rect')
    .attr('x', 1034)
    .attr('width', 36)
    .attr('y', d => barY(d + 0.1))
    .attr('height', d => Math.max(barY(d) - barY(d + 0.1) + 1, 1))
    .attr('fill', d => color(d))
    .attr('shape-rendering', 'crispEdges');

svg.append('rect')
    .attr('x', 1034).attr('y', 26).attr('width', 36).attr('height', 716)
    .attr('fill', 'none').attr('stroke', '#888').attr('stroke-width', 1);

svg.append('g')
    .attr('transform', 'translate(1070,0)')
    .call(d3.axisRight(barY).tickValues(barTicks).tickSize(5).tickPadding(5))
    .call(styleAxis, 24);

const barLabel = svg.append('text')
    .attr('transform', 'translate(1123,386) rotate(90)')
    .attr('text-anchor', 'middle')
    .style('font-size', '26px');
barLabel.append('tspan').text('Present ');
barLabel.append('tspan').style('font-style', 'italic').text('T');
barLabel.append('tspan').attr('dy', 5).style('font-size', '0.7em').style('font-style', 'italic').text('W');
barLabel.append('tspan').attr('dy', -5).text('  ( ');
barLabel.append('tspan').attr('dy', -8).style('font-size', '0.7em').text('°');
barLabel.append('tspan').attr('dy', 8).text(' C)');

// annotation arrows
const arrowLine = d3.line();

svg.append('path')
    .attr('d', arrowLine([[78, 26], [120, 68], [99, 68], [99, 298], [57, 298], [57, 68], [37, 68]]) + 'Z')
    .attr('fill', '#d6d6d6').attr('stroke', '#222').attr('stroke-width', 2);
svg.append('text')
    .attr('class', 'arrow-label')
    .attr('transform', 'translate(88,172) rotate(-90)')
    .attr('text-anchor', 'middle')
    .style('font-size', '28px')
    .text('Water-limited');

svg.append('path')
    .attr('d', arrowLine([[699, 834], [931, 834], [931, 814], [973, 856], [931, 898], [931, 877], [699, 877]]) + 'Z')
    .attr('fill', '#d6d6d6').attr('stroke', '#222').attr('stroke-width', 2);
svg.append('text')
    .attr('class', 'arrow-label')
    .attr('x', 826).attr('y', 866)
    .attr('text-anchor', 'middle')
    .style('font-size', '27.3px')
    .text('Efficacy-limited');
</script>
</body>
</html>
